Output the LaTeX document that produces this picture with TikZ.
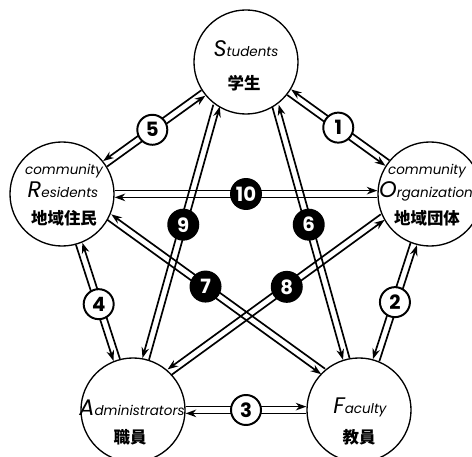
\documentclass[tikz,border=0pt]{standalone}
\usepackage{fontspec}
\setmainfont{Poppins}
\newfontfamily\jpfont{Noto Sans CJK JP}
\usetikzlibrary{calc,arrows.meta}
\newcommand{\gap}{2.4pt}
\newcommand{\initial}[1]{{\fontsize{16}{16}\selectfont #1}}
% two opposite lanes between two border points; #3 = 1 keeps right, -1 keeps left
\newcommand{\lanes}[3]{%
  \pgfmathsetmacro\sideA{-90*#3}\pgfmathsetmacro\sideB{90*#3}
  \draw[lane] ($(#1)!\gap!\sideA:(#2)$) -- ($(#2)!\gap!\sideB:(#1)$);
  \draw[lane] ($(#2)!\gap!\sideA:(#1)$) -- ($(#1)!\gap!\sideB:(#2)$);
}

\begin{document}
\begin{tikzpicture}[x=0.025cm,y=-0.025cm,line width=1.2pt,
  place/.style={circle,draw,line width=0.95pt,minimum size=2.6cm,inner sep=0pt},
  lane/.style={-{Stealth[length=7.5pt,width=5.4pt]},line width=1.2pt},
  tag/.style={circle,draw,line width=1.4pt,minimum size=0.75cm,inner sep=0pt,
    font=\fontsize{14}{14}\selectfont\bfseries},
  open/.style={tag,fill=white},
  dark/.style={tag,fill=black,text=white},
  en/.style={font=\fontsize{9.6}{12}\selectfont\itshape,inner sep=0pt,anchor=base},
  jp/.style={font=\jpfont\bfseries\fontsize{11.7}{12}\selectfont,inner sep=0pt,anchor=base}]
  \useasboundingbox (0,0) rectangle (472,457);

  % the five groups
  \node[place] (S) at (246,62) {};
  \node[place] (R) at (62,194) {};
  \node[place] (O) at (430,194) {};
  \node[place] (A) at (133,410) {};
  \node[place] (F) at (359,410) {};

  \node[en] (S-en) at ($(S)+(0,-5)$) {\initial{S}tudents};
  \node[jp] (S-jp) at ($(S)+(-2,28)$) {学生};
  \node[en] (R-top) at ($(R)+(2,-19)$) {community};
  \node[en] (R-en) at ($(R)+(1,4)$) {\initial{R}esidents};
  \node[jp] (R-jp) at ($(R)+(2,31)$) {地域住民};
  \node[en] (O-top) at ($(O)+(-3,-19)$) {community};
  \node[en] (O-en) at ($(O)+(-4,4)$) {\initial{O}rganization};
  \node[jp] (O-jp) at ($(O)+(-3,31)$) {地域団体};
  \node[en] (A-en) at ($(A)+(-1,5)$) {\initial{A}dministrators};
  \node[jp] (A-jp) at ($(A)+(-3,33)$) {職員};
  \node[en] (F-en) at ($(F)+(1,3)$) {\initial{F}aculty};
  \node[jp] (F-jp) at ($(F)+(0,33)$) {教員};

  % lanes
  \lanes{S.-35.65}{O.144.35}{1}
  \lanes{O.-108.2}{F.71.8}{1}
  \lanes{A.0}{F.180}{-1}
  \lanes{R.-71.8}{A.108.2}{1}
  \lanes{S.-144.35}{R.35.65}{1}
  \lanes{S.-56}{F.104}{1}
  \lanes{R.-26.8}{F.133.4}{1}
  \lanes{O.206.8}{A.46.6}{1}
  \lanes{S.236}{A.76}{1}
  \lanes{R.0}{O.180}{-1}

  % numbers
  \node[open] (t1) at ($(S.-35.65)!0.5!(O.144.35)$) {1};
  \node[open] (t2) at ($(O.-108.2)!0.5!(F.71.8)$) {2};
  \node[open] (t3) at ($(A.0)!0.5!(F.180)$) {3};
  \node[open] (t4) at ($(R.-71.8)!0.52!(A.108.2)$) {4};
  \node[open] (t5) at ($(S.-144.35)!0.52!(R.35.65)$) {5};
  \node[dark] (t6) at ($(S.-56)!0.47!(F.104)$) {6};
  \node[dark] (t7) at ($(R.-26.8)!0.45!(F.133.4)$) {7};
  \node[dark] (t8) at ($(O.206.8)!0.45!(A.46.6)$) {8};
  \node[dark] (t9) at ($(S.236)!0.47!(A.76)$) {9};
  \node[dark] (t10) at ($(R.0)!0.5!(O.180)$) {10};
\end{tikzpicture}
\end{document}
